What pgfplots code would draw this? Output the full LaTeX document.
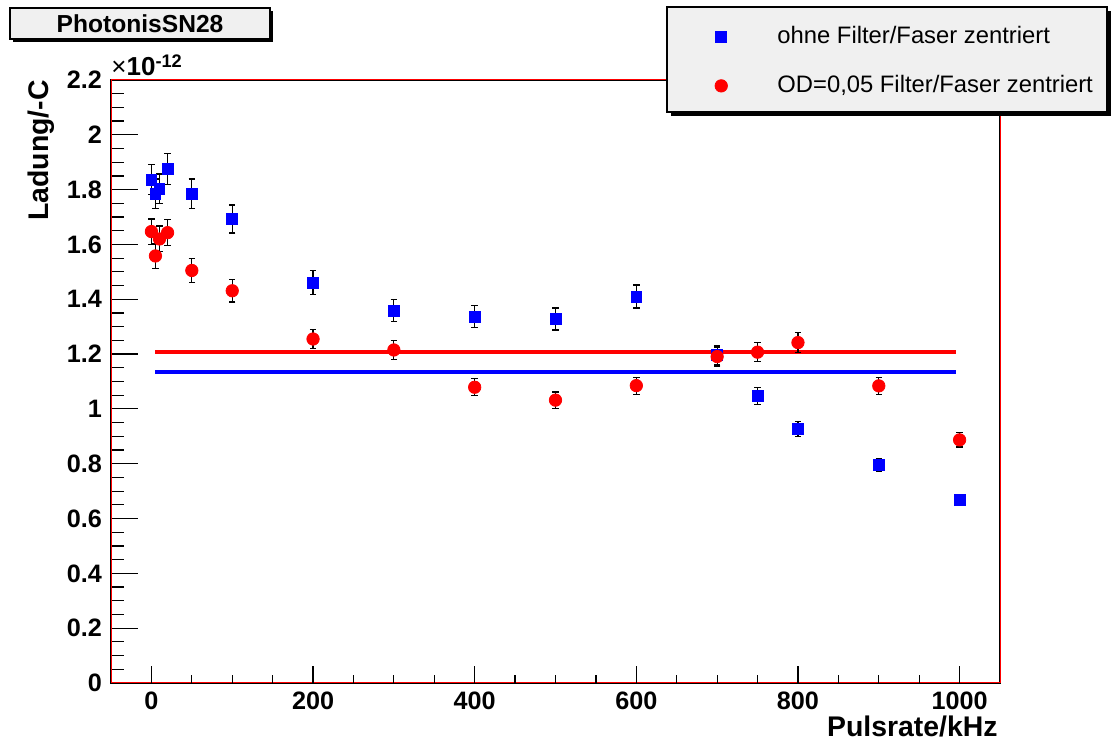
\documentclass[border=0pt]{standalone}
\usepackage{fontspec}
\setmainfont{Liberation Sans}
\usepackage{pgfplots}
\pgfplotsset{compat=1.18}
\usetikzlibrary{shadows}
\definecolor{rootgray}{RGB}{240,240,240}
\pgfplotstableread{
x y ey
0 1.836 0.055
5 1.785 0.054
10 1.803 0.054
20 1.876 0.056
50 1.785 0.054
100 1.693 0.051
200 1.461 0.044
300 1.359 0.041
400 1.337 0.040
500 1.328 0.040
600 1.410 0.042
700 1.196 0.036
750 1.046 0.031
800 0.926 0.028
900 0.796 0.024
1000 0.668 0.020
}\blue
\pgfplotstableread{
x y ey
0 1.647 0.046
5 1.558 0.045
10 1.620 0.047
20 1.643 0.047
50 1.505 0.044
100 1.431 0.041
200 1.255 0.036
300 1.215 0.035
400 1.079 0.031
500 1.032 0.030
600 1.085 0.031
700 1.191 0.035
750 1.207 0.035
800 1.242 0.036
900 1.084 0.031
1000 0.887 0.026
}\red
\begin{document}
\begin{tikzpicture}
\useasboundingbox (0,0) rectangle (556pt,374pt);
% background axis: frame and y ticks
\begin{axis}[
  at={(55.5pt,32.5pt)}, anchor=south west,
  scale only axis, width=444.5pt, height=301.5pt,
  xmin=-50, xmax=1050, ymin=0, ymax=2.2,
  axis line style={black, line width=0.7pt},
  xtick=\empty,
  ytick={0,0.2,...,2.2}, minor y tick num=3,
  ytick pos=left, tick align=inside,
  major tick length=13.3pt, minor tick length=6.6pt,
  tick style={black, line width=0.6pt},
  yticklabel style={font=\bfseries\fontsize{12.6}{14}\selectfont, xshift=-1pt},
  /pgf/number format/assume math mode=true,
  yticklabel={\pgfmathprintnumber[fixed,precision=1]{\tick}},
  clip=false,
]
\draw[red, line width=0.5pt] (rel axis cs:0,0) rectangle (rel axis cs:1,1);
\end{axis}
% legend frame
\node[draw=black, line width=0.6pt, fill=rootgray, minimum width=220pt, minimum height=52.5pt, inner sep=0pt,
  drop shadow={shadow xshift=2pt, shadow yshift=-2pt, opacity=1, fill=black}] at (443.5pt,344.25pt) {};
% data axis
\begin{axis}[
  at={(55.5pt,32.5pt)}, anchor=south west,
  scale only axis, width=444.5pt, height=301.5pt,
  xmin=-50, xmax=1050, ymin=0, ymax=2.2,
  axis line style={draw=none},
  ytick=\empty,
  xtick={0,200,...,1000}, minor x tick num=3,
  xtick pos=bottom, tick align=inside,
  major tick length=8.7pt, minor tick length=4pt,
  tick style={black, line width=0.6pt},
  xticklabel style={font=\bfseries\fontsize{12.6}{14}\selectfont, yshift=-1pt},
  /pgf/number format/assume math mode=true,
  /pgf/number format/1000 sep={},
  clip=false,
  legend style={at={(axis description cs:0.679,1.096)}, anchor=north west,
    draw=none, fill=none, inner xsep=0pt, inner ysep=0pt,
    font=\fontsize{11.9}{13}\selectfont, row sep=10.5pt,
    /tikz/every odd column/.append style={column sep=23pt}},
  legend cell align=left,
]
\addplot[red, line width=2pt, forget plot] coordinates {(5,1.208) (995,1.208)};
\addplot[blue, line width=2pt, forget plot] coordinates {(5,1.134) (995,1.134)};
\addplot[only marks, mark=square*, mark size=2.7pt, color=blue,
  error bars/.cd, y dir=both, y explicit,
  error bar style={black, line width=0.6pt},
  error mark options={black, rotate=90, mark size=1.6pt, line width=0.6pt}]
  table[x=x, y=y, y error=ey] {\blue};
\addlegendentry{ohne Filter/Faser zentriert}
\addplot[only marks, mark=*, mark size=3.1pt, color=red,
  error bars/.cd, y dir=both, y explicit,
  error bar style={black, line width=0.6pt},
  error mark options={black, rotate=90, mark size=1.6pt, line width=0.6pt}]
  table[x=x, y=y, y error=ey] {\red};
\addlegendentry{OD=0,05 Filter/Faser zentriert}
\end{axis}
\node[draw=black, line width=0.6pt, fill=rootgray, minimum width=130pt, minimum height=15.5pt, inner sep=0pt,
  drop shadow={shadow xshift=1.5pt, shadow yshift=-1.5pt, opacity=1, fill=black},
  font=\bfseries\fontsize{12.3}{14}\selectfont] at (70pt,362.25pt) {PhotonisSN28};
\node[font=\bfseries\fontsize{14.2}{16}\selectfont, anchor=base east, inner sep=0pt] at (499pt,5.5pt) {Pulsrate/kHz};
\node[font=\bfseries\fontsize{14.2}{16}\selectfont, rotate=90, anchor=base east, inner sep=0pt] at (24pt,334pt) {Ladung/-C};
\node[font=\bfseries\fontsize{13}{15}\selectfont, anchor=base west, inner sep=0pt] at (55.5pt,336pt) {{\mdseries ×}10\textsuperscript{-12}};
\end{tikzpicture}
\end{document}
